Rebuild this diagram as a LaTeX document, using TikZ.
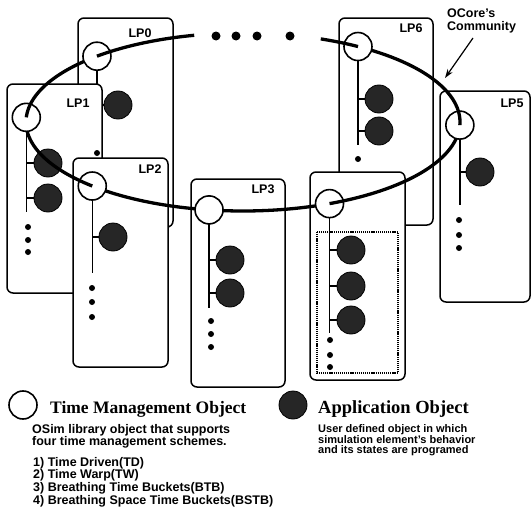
\documentclass[tikz,border=0pt]{standalone}
\usepackage{fontspec}
\setmainfont{Liberation Serif}
\setsansfont{Liberation Sans}
\usetikzlibrary{arrows.meta}
\begin{document}
\begin{tikzpicture}[x=1pt,y=-1pt,
  lpbox/.style={draw, line width=1.5pt, rounded corners=6pt, fill=white},
  tm/.style={circle, draw, line width=1.6pt, fill=white, minimum size=28pt, inner sep=0pt},
  app/.style={circle, draw=black, line width=0.8pt, fill=black!85, minimum size=28pt, inner sep=0pt},
  stem/.style={line width=1.3pt},
  ring/.style={line width=3.3pt},
  dotm/.style={circle, fill=black, inner sep=0pt, minimum size=6pt},
  bigdot/.style={circle, fill=black, inner sep=0pt, minimum size=9pt},
  lbl/.style={font=\sffamily\bfseries\fontsize{12.5}{13}\selectfont, inner sep=0pt},
  desc/.style={font=\sffamily\bfseries\fontsize{12.5}{10}\selectfont, inner sep=0pt, align=left},
  descr/.style={font=\sffamily\bfseries\fontsize{11}{10}\selectfont, inner sep=0pt, align=left},
  ttl/.style={font=\rmfamily\bfseries, inner sep=0pt}
]
\useasboundingbox (0,0) rectangle (531,522);
% TM centres on the ring
\coordinate (c0) at ({243+217*cos(227.7)},{122+89*sin(227.7)});
\coordinate (c1) at ({243+217*cos(183)},{122+89*sin(183)});
\coordinate (c2) at ({243+217*cos(134)},{122+89*sin(134)});
\coordinate (c3) at ({243+217*cos(99)},{122+89*sin(99)});
\coordinate (c4) at ({243+217*cos(66.5)},{122+89*sin(66.5)});
\coordinate (c5) at ({243+217*cos(2)},{122+89*sin(2)});
\coordinate (c6) at ({243+217*cos(302)},{122+89*sin(302)});

% LP0
\draw[lpbox] (78,18) rectangle (173,227);
\node[lbl] (l0) at (140,33) {LP0};
\coordinate (e0) at (97,140);
\draw[stem] (c0) -- (c0 |- e0);
\node[app] (a0) at (118,105) {};
\draw[stem] (c0 |- a0) -- (a0);

% LP6
\draw[lpbox] (339,18) rectangle (433,225);
\node[lbl] (l6) at (411,28) {LP6};
\coordinate (e6) at (357,145);
\draw[stem] (c6) -- (c6 |- e6);
\node[app] (a6a) at (379,99) {};
\node[app] (a6b) at (379,131) {};
\draw[stem] (c6 |- a6a) -- (a6a);
\draw[stem] (c6 |- a6b) -- (a6b);
\node[dotm] (d6a) at (c6 |- 0,159) {};

% LP1
\draw[lpbox] (7,84) rectangle (102,293);
\node[lbl] (l1) at (78,103) {LP1};
\coordinate (e1) at (26,212);
\draw[stem] (c1) -- (c1 |- e1);
\node[app] (a1a) at (48,163) {};
\node[app] (a1b) at (48,198) {};
\draw[stem] (c1 |- a1a) -- (a1a);
\draw[stem] (c1 |- a1b) -- (a1b);
\node[dotm] (d1a) at (28,227) {};
\node[dotm] (d1b) at (28,240) {};
\node[dotm] (d1c) at (28,252) {};
\node[dotm] (d0a) at (97,153) {};

% LP2
\draw[lpbox] (73,158) rectangle (168,367);
\node[lbl] (l2) at (150,169) {LP2};
\coordinate (e2) at (93,273);
\draw[stem] (c2) -- (c2 |- e2);
\node[app] (a2a) at (113,237) {};
\draw[stem] (c2 |- a2a) -- (a2a);
\node[dotm] (d2a) at (92,288) {};
\node[dotm] (d2b) at (92,302) {};
\node[dotm] (d2c) at (92,317) {};

% LP3
\draw[lpbox] (191,179) rectangle (285,387);
\node[lbl] (l3) at (263,189) {LP3};
\coordinate (e3) at (209,308);
\draw[stem] (c3) -- (c3 |- e3);
\node[app] (a3a) at (230,260) {};
\node[app] (a3b) at (230,293) {};
\draw[stem] (c3 |- a3a) -- (a3a);
\draw[stem] (c3 |- a3b) -- (a3b);
\node[dotm] (d3a) at (211,321) {};
\node[dotm] (d3b) at (211,334) {};
\node[dotm] (d3c) at (211,347) {};

% LP5
\draw[lpbox] (440,91) rectangle (530,302);
\node[lbl] (l5) at (512,103) {LP5};
\coordinate (e5) at (459,205);
\draw[stem] (c5) -- (c5 |- e5);
\node[app] (a5a) at (480,172) {};
\draw[stem] (c5 |- a5a) -- (a5a);
\node[dotm] (d5a) at (459,220) {};
\node[dotm] (d5b) at (459,235) {};
\node[dotm] (d5c) at (459,248) {};

% LP4
\draw[lpbox] (310,172) rectangle (405,380);
\draw[line width=1.6pt, dash pattern=on 1.2pt off 0.9pt] (317,232) rectangle (398,373);
\coordinate (e4) at (330,333);
\draw[stem] (c4) -- (c4 |- e4);
\node[app] (a4a) at (351,250) {};
\node[app] (a4b) at (351,286) {};
\node[app] (a4c) at (351,320) {};
\draw[stem] (c4 |- a4a) -- (a4a);
\draw[stem] (c4 |- a4b) -- (a4b);
\draw[stem] (c4 |- a4c) -- (a4c);
\node[dotm] (d4a) at (330,340) {};
\node[dotm] (d4b) at (330,355) {};
\node[dotm] (d4c) at (330,367) {};

% ring
\draw[ring] plot[domain=-69:257, samples=240, smooth] ({243+217*cos(\x)},{122+89*sin(\x)});
\node[tm] (t0) at (c0) {};
\node[tm] (t1) at (c1) {};
\node[tm] (t2) at (c2) {};
\node[tm] (t3) at (c3) {};
\node[tm] (t4) at (c4) {};
\node[tm] (t5) at (c5) {};
\node[tm] (t6) at (c6) {};
\draw[ring] plot[domain=227.7:232.6, samples=8] ({243+217*cos(\x)},{122+89*sin(\x)});
\draw[ring] plot[domain=183:192, samples=8] ({243+217*cos(\x)},{122+89*sin(\x)});
\draw[ring] plot[domain=134:138.8, samples=8] ({243+217*cos(\x)},{122+89*sin(\x)});
\draw[ring] plot[domain=62.4:66.5, samples=8] ({243+217*cos(\x)},{122+89*sin(\x)});
\draw[ring] plot[domain=-7:2, samples=8] ({243+217*cos(\x)},{122+89*sin(\x)});
\draw[ring] plot[domain=297.6:302, samples=8] ({243+217*cos(\x)},{122+89*sin(\x)});

% gap dots
\node[bigdot] (g1) at (216,36) {};
\node[bigdot] (g2) at (236,36) {};
\node[bigdot] (g3) at (257,36) {};
\node[bigdot] (g4) at (290,36) {};

% community label and arrow
\node[lbl, align=left, anchor=north west] (oc) at (447,9) {OCore's\\Community};
\coordinate (arrS) at (473,38);
\coordinate (arrT) at (445,78);
\draw[line width=1.2pt, -{Stealth[length=9pt,width=6pt]}] (arrS) -- (arrT);

% legend
\node[tm] (ltm) at (23,405) {};
\node[ttl, anchor=base west, font=\rmfamily\bfseries\fontsize{17.5}{20}\selectfont] (ltmt) at (50,413) {Time Management Object};
\node[app] (lapp) at (293,405) {};
\node[ttl, anchor=base west, font=\rmfamily\bfseries\fontsize{18.5}{20}\selectfont] (lappt) at (318,413) {Application Object};
\node[desc, anchor=north west] (dd1) at (32,424) {OSim library object that supports\\four time management schemes.};
\node[desc, anchor=north west] (dd2) at (33,457) {1) Time Driven(TD)\\2) Time Warp(TW)\\3) Breathing Time Buckets(BTB)\\4) Breathing Space Time Buckets(BSTB)};
\node[descr, anchor=north west] (dd3) at (318,424) {User defined object in which\\simulation element's behavior\\and its states are programed};
\end{tikzpicture}
\end{document}
